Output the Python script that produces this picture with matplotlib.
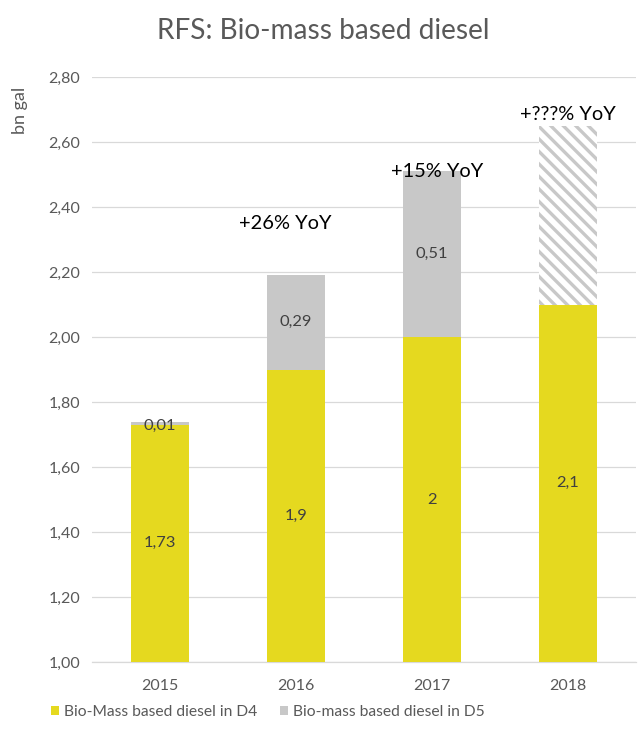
import matplotlib
matplotlib.use("Agg")
import matplotlib.pyplot as plt
import numpy as np

years = ["2015", "2016", "2017", "2018"]
d4 = [1.73, 1.9, 2.0, 2.1]
d5 = [0.01, 0.29, 0.51, None]
d5_estimate = [None, None, None, 0.55]
d4_labels = ["1,73", "1,9", "2", "2,1"]
d5_labels = ["0,01", "0,29", "0,51", ""]
yoy = [None, "+26% YoY", "+15% YoY", "+???% YoY"]
yoy_pos = [None, 2.35, 2.51, 2.685]
yoy_xshift = [0, -0.08, 0.04, 0.0]
yticks = [1.0, 1.2, 1.4, 1.6, 1.8, 2.0, 2.2, 2.4, 2.6, 2.8]
ytick_labels = ["1,00", "1,20", "1,40", "1,60", "1,80", "2,00", "2,20", "2,40", "2,60", "2,80"]

DPI = 75
def px(v):
    return v * 72.0 / DPI

plt.rcParams['font.family'] = ['Lato', 'DejaVu Sans']
plt.rcParams['hatch.linewidth'] = 3.2
yellow = "#E5D91F"
grey = "#C8C8C8"
txt = "#595959"

fig = plt.figure(figsize=(643 / DPI, 742 / DPI), dpi=DPI)
ax = fig.add_axes([92 / 643, 1 - 662 / 742, (636 - 92) / 643, (662 - 77) / 742])

x = np.arange(len(years))
w = 0.42
base = 1.0
ax.bar(x, [v - base for v in d4], w, bottom=base, color=yellow, lw=0, zorder=3,
       label="Bio-Mass based diesel in D4")
d5_vals = [v if v is not None else 0 for v in d5]
ax.bar(x, d5_vals, w, bottom=d4, color=grey, lw=0, zorder=3,
       label="Bio-mass based diesel in D5")
est_vals = [v if v is not None else 0 for v in d5_estimate]
ax.bar(x, est_vals, w, bottom=d4, facecolor="white", edgecolor=grey, hatch="\\\\",
       lw=0, zorder=3)

for i in range(len(years)):
    ax.text(x[i], (base + d4[i]) / 2, d4_labels[i], ha="center", va="center",
            fontsize=px(16.5), color="#404040", zorder=4)
    if d5[i] is not None:
        ax.text(x[i], d4[i] + d5[i] / 2 if d5[i] > 0.05 else d4[i] - 0.005, d5_labels[i],
                ha="center", va="center", fontsize=px(16.5), color="#404040", zorder=4)
    if yoy[i]:
        ax.text(x[i] + yoy_xshift[i], yoy_pos[i], yoy[i], ha="center", va="center",
                fontsize=px(20), color="black", zorder=4)

ax.set_ylim(1.0, 2.8)
ax.set_xlim(-0.5, 3.5)
ax.set_yticks(yticks)
ax.set_yticklabels(ytick_labels)
ax.set_xticks(x)
ax.set_xticklabels(years)
ax.tick_params(axis="both", length=0, labelsize=px(16), colors=txt, pad=px(12))
ax.tick_params(axis="x", pad=px(17))
ax.yaxis.grid(True, color="#D9D9D9", lw=1.2, zorder=0)
for s in ["top", "right", "left"]:
    ax.spines[s].set_visible(False)
ax.spines["bottom"].set_color("#D9D9D9")
ax.spines["bottom"].set_linewidth(1.2)

fig.text(20 / 643, 1 - 110 / 742, "bn gal", rotation=90, ha="center", va="center",
         fontsize=px(18), color=txt)
fig.text(323 / 643, 1 - 31 / 742, "RFS: Bio-mass based diesel", ha="center", va="center",
         fontsize=px(28), color=txt)

leg = fig.legend(loc="center", bbox_to_anchor=(268 / 643, 1 - 712 / 742), ncol=2,
                 frameon=False, fontsize=px(15.6), handlelength=0.5, handleheight=0.5,
                 handletextpad=0.3, columnspacing=1.5, labelcolor=txt)

fig.savefig("out.png", dpi=DPI)
